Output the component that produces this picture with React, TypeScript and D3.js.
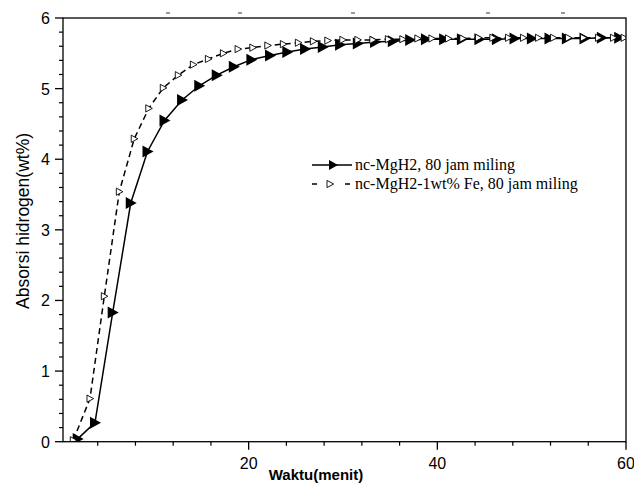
import React from "react";
import * as d3 from "d3";

const seriesAName = "nc-MgH2, 80 jam miling";
const seriesBName = "nc-MgH2-1wt% Fe, 80 jam miling";

const seriesA: [number, number][] = [
  [1.88, 0.04], [3.71, 0.27], [5.59, 1.83], [7.5, 3.38], [9.28, 4.11], [11.08, 4.55],
  [12.94, 4.84], [14.76, 5.04], [16.62, 5.19], [18.43, 5.31], [20.29, 5.41], [22.27, 5.47],
  [24.1, 5.52], [25.98, 5.56], [27.86, 5.59], [29.69, 5.62], [31.57, 5.64], [33.4, 5.66],
  [35.28, 5.67], [37.12, 5.69], [38.79, 5.7], [40.72, 5.7], [42.6, 5.7], [44.46, 5.7],
  [46.31, 5.7], [48.18, 5.71], [50.02, 5.71], [51.89, 5.71], [53.73, 5.71], [55.6, 5.71],
  [57.44, 5.72], [59.28, 5.72],
];

const seriesB: [number, number][] = [
  [1.41, 0.02], [3.18, 0.61], [4.7, 2.06], [6.29, 3.54], [7.87, 4.29], [9.41, 4.72],
  [10.95, 5.01], [12.54, 5.19], [14.14, 5.34], [15.73, 5.42], [17.32, 5.5], [18.88, 5.56],
  [20.44, 5.58], [22.03, 5.61], [23.68, 5.63], [25.27, 5.65], [26.86, 5.67], [28.39, 5.68],
  [29.98, 5.69], [31.57, 5.69], [33.16, 5.69], [34.81, 5.7], [36.34, 5.7], [37.93, 5.71],
  [39.42, 5.71], [41.18, 5.71], [42.7, 5.71], [44.36, 5.72], [45.88, 5.72], [47.54, 5.72],
  [49.13, 5.72], [50.72, 5.72], [52.31, 5.72], [53.9, 5.72], [55.49, 5.72], [57.08, 5.72],
  [58.67, 5.72], [59.8, 5.72],
];

const xMajorTicks = [20, 40, 60];
const xMinorTicks = [4, 8, 12, 16, 24, 28, 32, 36, 44, 48, 52, 56];
const yMajorTicks = [0, 1, 2, 3, 4, 5, 6];
const yMinorTicks = d3.range(0, 30).map((i) => i * 0.2).filter((v, i) => i % 5 !== 0);
const titleRemnantsX = [168, 240, 353, 488, 563];

const W = 634;
const H = 483;
const L = 63, R = 626, T = 18, B = 441.7;

export default function App() {
  const x = d3.scaleLinear().domain([0.32, 60]).range([L, R]);
  const y = d3.scaleLinear().domain([0, 6]).range([B, T]);
  const line = d3.line<[number, number]>().x((d) => x(d[0])).y((d) => y(d[1]));
  const filledTri = "M-5,-6L6,0L-5,6Z";
  const hollowTri = "M-3,-3.6L3.6,0L-3,3.6Z";
  const sans = "'Liberation Sans', Arial, sans-serif";
  const serif = "'Liberation Serif', 'Times New Roman', serif";
  return (
    <svg width={W} height={H} style={{ position: "absolute", left: 0, top: 0, background: "#fff" }}>
      <rect x={0} y={0} width={W} height={H} fill="#fff" />
      {titleRemnantsX.map((tx, i) => (
        <line key={i} x1={tx - 2} x2={tx + 2} y1={13} y2={13} stroke="#333" strokeWidth={1} />
      ))}
      <defs>
        <clipPath id="plot">
          <rect x={L} y={T - 10} width={R - L} height={B - T + 10} />
        </clipPath>
      </defs>
      <g clipPath="url(#plot)">
        <path d={line(seriesA) || ""} fill="none" stroke="#000" strokeWidth={1.5} />
        <path d={line(seriesB) || ""} fill="none" stroke="#000" strokeWidth={1.5} strokeDasharray="6,4" />
        {seriesA.map((d, i) => (
          <path key={"a" + i} d={filledTri} transform={`translate(${x(d[0])},${y(d[1])})`} fill="#000" />
        ))}
        {seriesB.map((d, i) => (
          <path key={"b" + i} d={hollowTri} transform={`translate(${x(d[0])},${y(d[1])})`} fill="#fff" stroke="#000" strokeWidth={0.9} />
        ))}
      </g>
      <rect x={L} y={T} width={R - L} height={B - T} fill="none" stroke="#000" strokeWidth={1.3} />
      {yMajorTicks.map((t) => (
        <g key={"ym" + t}>
          <line x1={L - 8} x2={L} y1={y(t)} y2={y(t)} stroke="#000" strokeWidth={1.3} />
          <text x={L - 13} y={y(t) + 6} textAnchor="end" fontFamily={sans} fontSize={16}>{t}</text>
        </g>
      ))}
      {yMinorTicks.map((t) => (
        <line key={"yn" + t} x1={L - 4} x2={L} y1={y(t)} y2={y(t)} stroke="#000" strokeWidth={1.2} />
      ))}
      {xMajorTicks.map((t) => (
        <g key={"xm" + t}>
          <line x1={x(t)} x2={x(t)} y1={B} y2={B + 8} stroke="#000" strokeWidth={1.3} />
          <text x={x(t)} y={B + 27} textAnchor="middle" fontFamily={sans} fontSize={16}>{t}</text>
        </g>
      ))}
      {xMinorTicks.map((t) => (
        <line key={"xn" + t} x1={x(t)} x2={x(t)} y1={B} y2={B + 4} stroke="#000" strokeWidth={1.2} />
      ))}
      <text x={316} y={480} textAnchor="middle" fontFamily={sans} fontSize={15} fontWeight="bold">Waktu(menit)</text>
      <text transform="translate(29,221) rotate(-90)" textAnchor="middle" fontFamily={sans} fontSize={17.5}>Absorsi hidrogen(wt%)</text>
      <g>
        <line x1={312} x2={352} y1={165} y2={165} stroke="#000" strokeWidth={1.5} />
        <path d="M-4,-5L5,0L-4,5Z" transform="translate(333,165)" fill="#000" />
        <text x={355} y={170} fontFamily={serif} fontSize={16}>{seriesAName}</text>
        <line x1={312} x2={317} y1={184} y2={184} stroke="#000" strokeWidth={1.5} />
        <line x1={345} x2={350} y1={184} y2={184} stroke="#000" strokeWidth={1.5} />
        <path d={hollowTri} transform="translate(330,184)" fill="#fff" stroke="#000" strokeWidth={0.9} />
        <text x={355} y={189} fontFamily={serif} fontSize={16}>{seriesBName}</text>
      </g>
    </svg>
  );
}
